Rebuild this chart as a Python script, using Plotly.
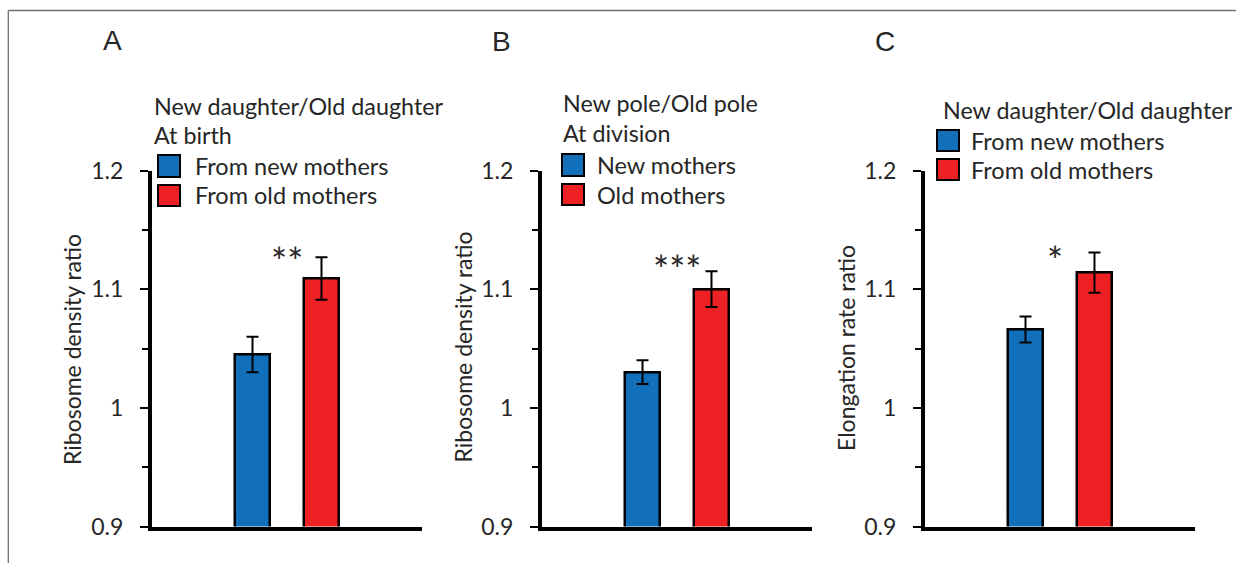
import plotly.graph_objects as go

W, H = 1236, 563

# ---------------- data ----------------
panel_letters = ["A", "B", "C"]
categories = [0, 1]
values_A = [1.045, 1.109]
errors_A = [0.015, 0.018]
values_B = [1.030, 1.100]
errors_B = [0.010, 0.015]
values_C = [1.066, 1.114]
errors_C = [0.011, 0.017]
legend_titles_A = ["New daughter/Old daughter", "At birth"]
legend_titles_B = ["New pole/Old pole", "At division"]
legend_titles_C = ["New daughter/Old daughter"]
legend_labels_A = ["From new mothers", "From old mothers"]
legend_labels_B = ["New mothers", "Old mothers"]
legend_labels_C = ["From new mothers", "From old mothers"]
y_titles = ["Ribosome density ratio", "Ribosome density ratio", "Elongation rate ratio"]
significance = ["**", "***", "*"]
tick_vals = [0.9, 1.0, 1.1, 1.2]
tick_text = ["0.9", "1", "1.1", "1.2"]
minor_tick_vals = [0.95, 1.05, 1.15]

BLUE = "#1170B9"
RED = "#ED2024"
TXT = "#262626"
FONT = "Lato"

values = [values_A, values_B, values_C]
errors = [errors_A, errors_B, errors_C]
leg_titles = [legend_titles_A, legend_titles_B, legend_titles_C]
leg_labels = [legend_labels_A, legend_labels_B, legend_labels_C]


def px(x):
    return x / W


def py(y):
    return 1 - y / H


fig = go.Figure()

# panel layout in pixels
x_left = [152, 542, 925]
x_right = [422, 812, 1195]
y_top, y_bot = 170.5, 526.5

for i in range(3):
    sfx = "" if i == 0 else str(i + 1)
    fig.add_trace(go.Bar(
        x=categories, y=values[i],
        marker=dict(color=[BLUE, RED], line=dict(color="black", width=2.5)),
        width=0.507,
        error_y=dict(type="data", array=errors[i], color="black", thickness=2, width=6),
        xaxis="x" + sfx, yaxis="y" + sfx, showlegend=False,
    ))
    fig.update_layout(**{
        "xaxis" + sfx: dict(
            domain=[px(x_left[i]), px(x_right[i])], anchor="y" + sfx,
            range=[-1.457, 2.457], showticklabels=False, ticks="",
            showgrid=False, zeroline=False, showline=True,
            linecolor="black", linewidth=4, automargin=False,
        ),
        "yaxis" + sfx: dict(
            domain=[py(y_bot), py(y_top)], anchor="x" + sfx,
            range=[0.9, 1.2], tickvals=tick_vals, ticktext=tick_text,
            ticks="outside", ticklen=8, tickwidth=2, tickcolor="black",
            minor=dict(tickvals=minor_tick_vals, ticks="outside", ticklen=6,
                       tickwidth=1.5, tickcolor="black"),
            showgrid=False, zeroline=False, showline=True,
            linecolor="black", linewidth=4, automargin=False,
            tickfont=dict(family=FONT, size=23, color=TXT),
            ticklabelstandoff=12,
        ),
    })

annotations = []
shapes = []

# y axis titles
ytitle_pos = [(72, 350), (462.5, 347), (846, 348)]
for i, (tx, ty) in enumerate(ytitle_pos):
    annotations.append(dict(text=y_titles[i], x=px(tx), y=py(ty), xref="paper", yref="paper",
                            showarrow=False, textangle=-90, xanchor="center", yanchor="middle",
                            font=dict(family=FONT, size=23, color=TXT)))

# panel letters
letter_pos = [(112, 41), (501, 42), (885, 42)]
for i, (lx, ly) in enumerate(letter_pos):
    annotations.append(dict(text=panel_letters[i], x=px(lx), y=py(ly), xref="paper", yref="paper",
                            showarrow=False, xanchor="center", yanchor="middle",
                            font=dict(family="Liberation Sans", size=28, color=TXT)))

# significance stars (above bar pair)
star_y = [1.124, 1.117, 1.125]
star_x = [0.5, 0.5, 0.43]
for i in range(3):
    sfx = "" if i == 0 else str(i + 1)
    annotations.append(dict(text=significance[i], x=star_x[i], y=star_y[i],
                            xref="x" + sfx, yref="y" + sfx, showarrow=False,
                            xanchor="center", yanchor="middle",
                            font=dict(family=FONT, size=38, color=TXT)))

# custom legends
leg_title_left = [152, 561, 941]
leg_title_y = [[106, 135], [103, 133], [109.5]]
sq_left = [158, 562, 937]
sq_rows = [[(155, 177), (185, 206)], [(154, 176), (184, 205)], [(130, 151), (159, 180)]]
text_left = [193, 595, 969]
for i in range(3):
    for t, ty in zip(leg_titles[i], leg_title_y[i]):
        annotations.append(dict(text=t, x=px(leg_title_left[i]), y=py(ty), xref="paper", yref="paper",
                                showarrow=False, xanchor="left", yanchor="middle",
                                font=dict(family=FONT, size=23.3, color=TXT)))
    for j, (y0, y1) in enumerate(sq_rows[i]):
        shapes.append(dict(type="rect", xref="paper", yref="paper",
                           x0=px(sq_left[i]), x1=px(sq_left[i] + 22), y0=py(y1), y1=py(y0),
                           fillcolor=[BLUE, RED][j], line=dict(color="black", width=2)))
        annotations.append(dict(text=leg_labels[i][j], x=px(text_left[i]), y=py((y0 + y1) / 2),
                                xref="paper", yref="paper", showarrow=False,
                                xanchor="left", yanchor="middle",
                                font=dict(family=FONT, size=23.5, color=TXT)))

# figure frame (top and left edges)
shapes.append(dict(type="line", xref="paper", yref="paper", x0=px(8.3), x1=1, y0=py(10.5), y1=py(10.5),
                   line=dict(color="#707070", width=1.3)))
shapes.append(dict(type="line", xref="paper", yref="paper", x0=px(8.3), x1=px(8.3), y0=0, y1=py(10.5),
                   line=dict(color="#707070", width=1.3)))

fig.update_layout(
    width=W, height=H, margin=dict(l=0, r=0, t=0, b=0),
    paper_bgcolor="white", plot_bgcolor="white",
    annotations=annotations, shapes=shapes, bargap=0,
)

fig.write_html("out.html")
